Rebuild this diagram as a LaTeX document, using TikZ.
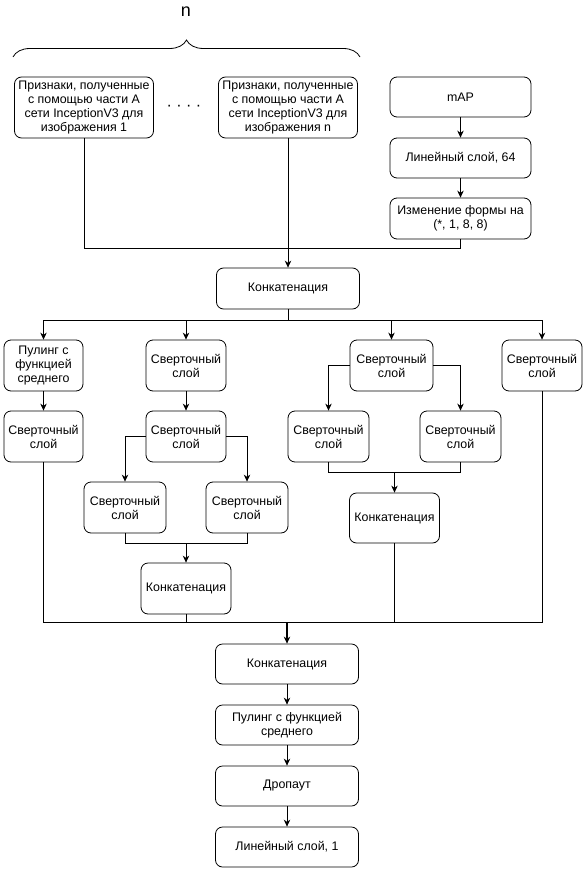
\documentclass[tikz,border=0pt]{standalone}
\usepackage{fontspec}
\setmainfont{Liberation Sans}
\usetikzlibrary{arrows.meta,positioning,decorations.pathreplacing}
\tikzset{>={Stealth[length=7pt,width=6.5pt]},
	block/.style={draw, rounded corners=7pt, align=center, inner sep=0pt,
		font=\fontsize{12.4}{14}\selectfont},
	wide/.style={block, minimum width=143pt, minimum height=40pt},
	small/.style={block, minimum width=80pt, minimum height=51pt},
	feat/.style={block, minimum width=139pt, minimum height=61pt}}

\begin{document}
\begin{tikzpicture}[x=1pt, y=-1pt, line width=0.8pt]
	\useasboundingbox (0,0) rectangle (583,869);
	% inputs
	\node[font=\fontsize{18}{20}\selectfont] (num) at (186,12) {n};
	\coordinate (braceL) at (13,57);
	\coordinate (braceR) at (360,57);
	\draw[decorate, decoration={brace, amplitude=17pt}] (braceL) -- (braceR);
	\node[feat] (feat1) at (84,107.5)
		{Признаки, полученные\\с помощью части A\\сети InceptionV3 для\\изображения 1};
	\node[font=\fontsize{16}{18}\selectfont] (dots) at (184,108) {· · · ·};
	\node[feat] (featn) at (288,107.5)
		{Признаки, полученные\\с помощью части A\\сети InceptionV3 для\\изображения n};
	\node[wide, minimum width=141pt] (map) at (460.5,97) {mAP};
	\node[wide, minimum width=141pt] (lin64) at (460.5,158) {Линейный слой, 64};
	\node[wide, minimum width=141pt, minimum height=41pt] (reshape) at (460.5,218.5)
		{Изменение формы на\\(*, 1, 8, 8)};
	\draw[->] (map) -- (lin64);
	\draw[->] (lin64) -- (reshape);
	\node[wide, minimum height=41pt] (concatA) at (288,288.5) {Конкатенация};
	\coordinate (join1) at (84,248);
	\draw (feat1.south) -- (join1) -| (reshape.south);
	\draw[->] (featn.south) -- (concatA.north);
	% branches
	\node[small, minimum width=79pt] (pool1) at (43.5,365.5) {Пулинг с\\функцией\\среднего};
	\node[small] (convB) at (186,365.5) {Сверточный\\слой};
	\node[small, minimum width=83pt] (convC) at (391.5,365.5) {Сверточный\\слой};
	\node[small] (convD) at (542,365.5) {Сверточный\\слой};
	\path (concatA.south) ++(0,10.5) coordinate (split);
	\draw (concatA.south) -- (split);
	\foreach \n in {pool1,convB,convC,convD}
		\draw[->] (split) -| (\n.north);
	% first branch
	\node[small, minimum width=79pt] (convA2) at (43.5,436.5) {Сверточный\\слой};
	\draw[->] (pool1) -- (convA2);
	% second branch
	\node[small] (convB2) at (186,436.5) {Сверточный\\слой};
	\node[small, minimum width=82pt] (convB3l) at (125,507.5) {Сверточный\\слой};
	\node[small, minimum width=82pt] (convB3r) at (247,507.5) {Сверточный\\слой};
	\node[small, minimum width=90pt] (concatB) at (186,588.5) {Конкатенация};
	\draw[->] (convB) -- (convB2);
	\draw[->] (convB2.west) -| (convB3l.north);
	\draw[->] (convB2.east) -| (convB3r.north);
	\path (convB3l.south) ++(0,10) coordinate (joinB);
	\draw (convB3l.south) -- (joinB) -| (convB3r.south);
	\draw[->] (joinB -| concatB.north) -- (concatB.north);
	% third branch
	\node[small, minimum width=81pt] (convC2l) at (328.5,436.5) {Сверточный\\слой};
	\node[small, minimum width=81pt] (convC2r) at (460.5,436.5) {Сверточный\\слой};
	\node[small, minimum width=90pt, minimum height=50pt] (concatC) at (394.5,518) {Конкатенация};
	\draw[->] (convC.west) -| (convC2l.north);
	\draw[->] (convC.east) -| (convC2r.north);
	\path (convC2l.south) ++(0,10) coordinate (joinC);
	\draw (convC2l.south) -- (joinC) -| (convC2r.south);
	\draw[->] (joinC -| concatC.north) -- (concatC.north);
	% merge and head
	\node[wide] (concatZ) at (287,664) {Конкатенация};
	\node[wide] (poolZ) at (287,725) {Пулинг с функцией\\среднего};
	\node[wide] (drop) at (287,786) {Дропаут};
	\node[wide] (lin1) at (287,847) {Линейный слой, 1};
	\path (concatZ.north) ++(0,-21) coordinate (merge);
	\draw (convA2.south) |- (merge);
	\draw (convD.south) |- (merge);
	\draw (concatB.south) -- (concatB.south |- merge);
	\draw (concatC.south) -- (concatC.south |- merge);
	\draw[->, line width=1.1pt] (merge) -- (concatZ.north);
	\draw[->] (concatZ) -- (poolZ);
	\draw[->] (poolZ) -- (drop);
	\draw[->] (drop) -- (lin1);
\end{tikzpicture}
\end{document}
